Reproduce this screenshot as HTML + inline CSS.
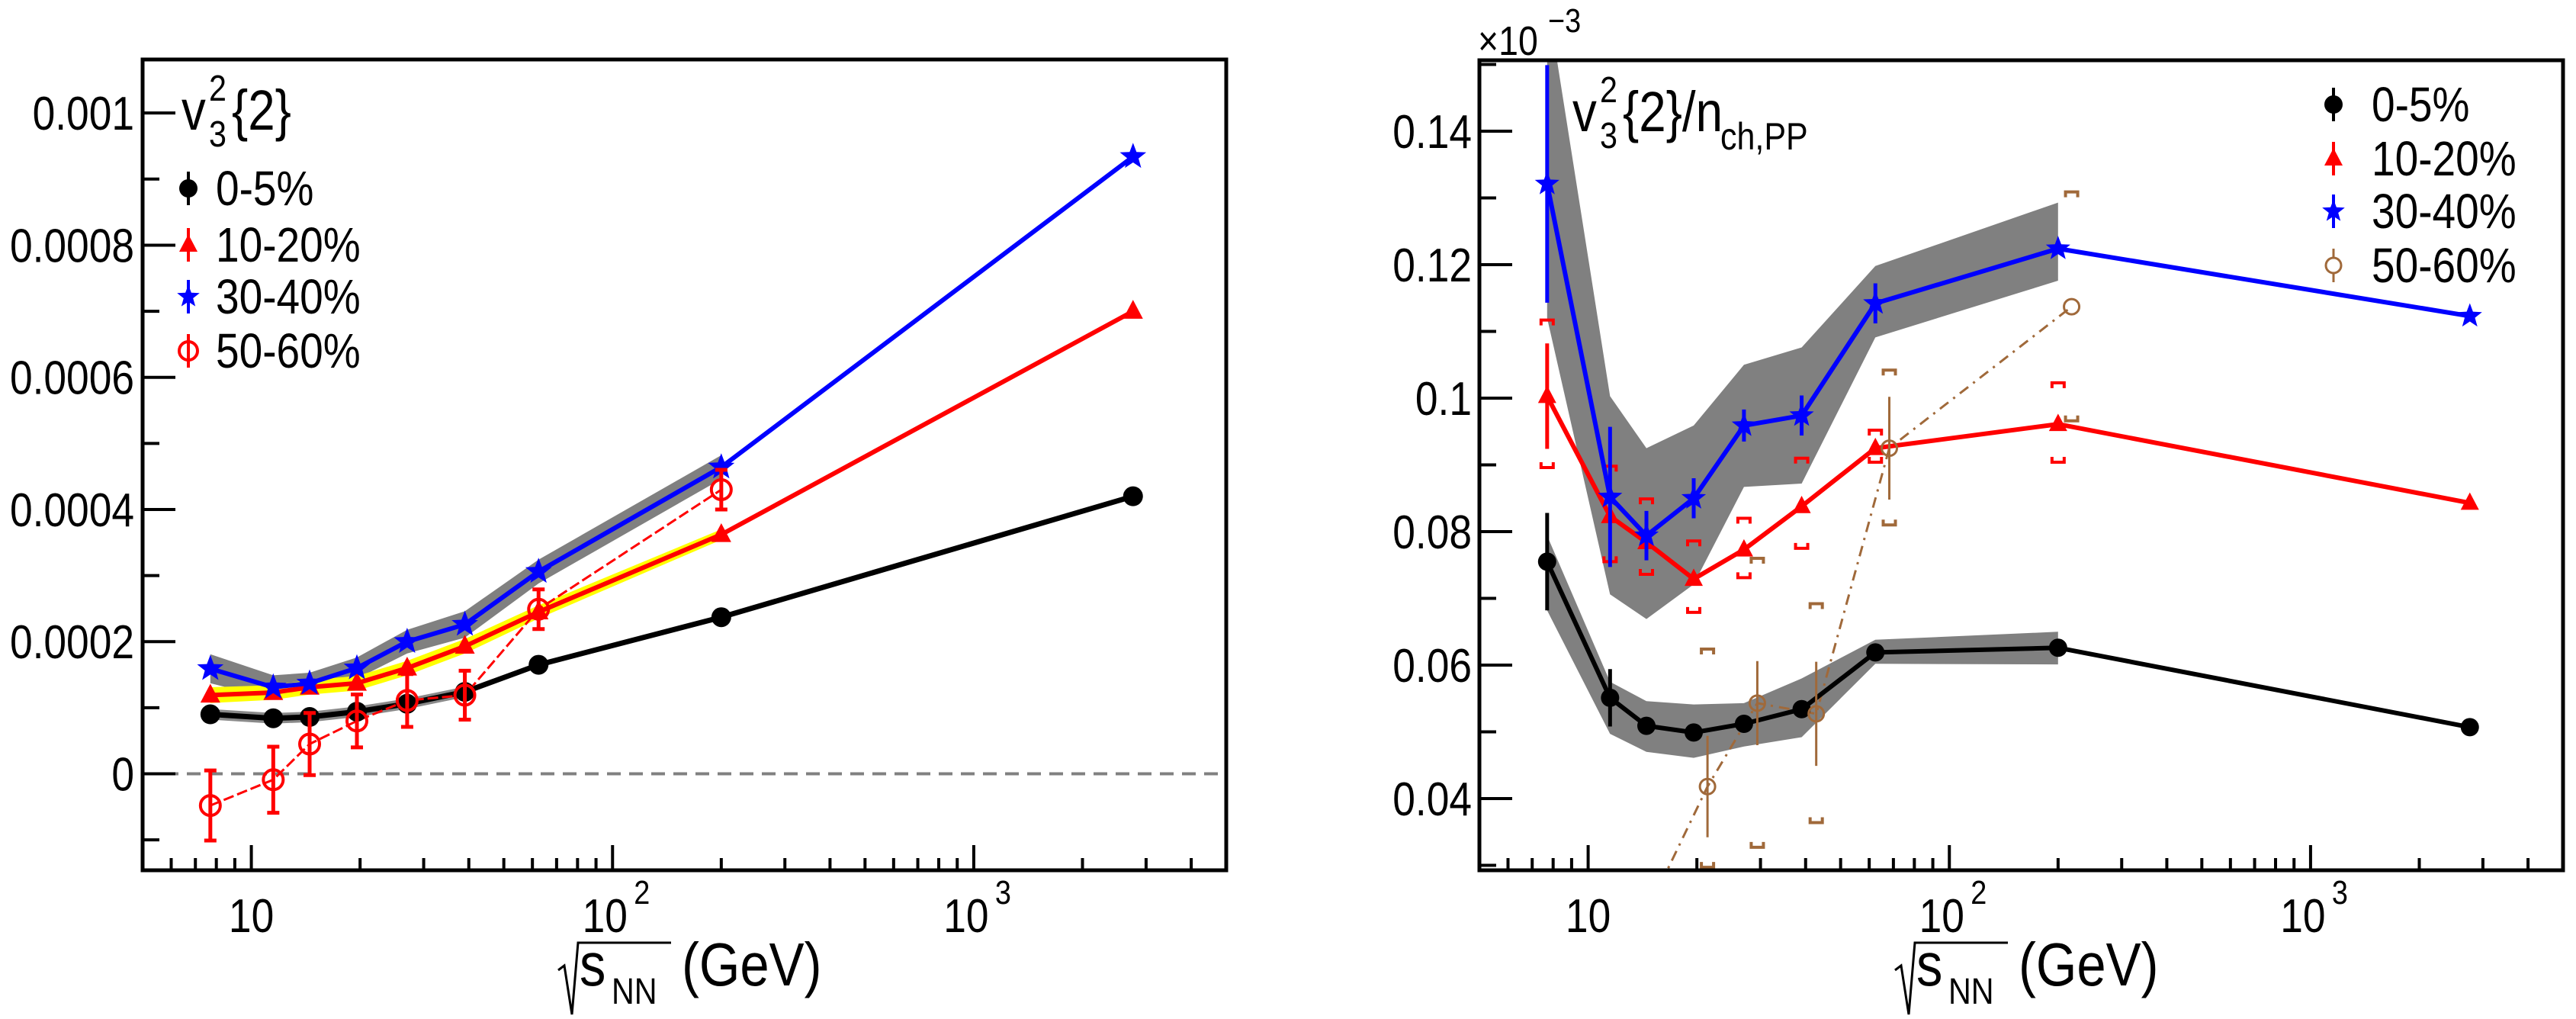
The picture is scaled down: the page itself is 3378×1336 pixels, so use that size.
<!DOCTYPE html>
<html><head><meta charset="utf-8"><style>
html,body{margin:0;padding:0;background:#fff}
svg{display:block}
text{font-family:"Liberation Sans",sans-serif}
</style></head><body>
<svg id="fig" width="3378" height="1336" viewBox="0 0 3378 1336" xmlns="http://www.w3.org/2000/svg">
<defs>
<clipPath id="clipL"><rect x="187" y="78" width="1421" height="1063"/></clipPath>
<clipPath id="clipR"><rect x="1940" y="79" width="1421" height="1062"/></clipPath>
</defs>
<g id="left"></g>
<g id="right"></g>
</svg>
<script>
// ---------- data: left panel (v3^2{2}) ----------
const energies = [7.7, 11.5, 14.5, 19.6, 27, 39, 62.4, 200, 2760];
const leftC0 = [0.000090, 0.000084, 0.000086, 0.000094, 0.000106, 0.000124, 0.000165, 0.000237, 0.00042];
const leftC10 = [0.000119, 0.000123, 0.000131, 0.000137, 0.000160, 0.000193, 0.000245, 0.000362, 0.00070];
const leftC30 = [0.000159, 0.000131, 0.000137, 0.000160, 0.000200, 0.000226, 0.000306, 0.000464, 0.000934];
const leftC50 = [-0.000048, -0.000009, 0.000045, 0.000080, 0.000111, 0.000119, 0.000249, 0.000430];
const leftC50Err = [0.000053, 0.000050, 0.000047, 0.000040, 0.000040, 0.000037, 0.000030, 0.000030];
const leftC0Band = [0.000008, 0.000008, 0.000008, 0.000008, 0.000008, 0.000008];
const leftC10Band = [0.000012, 0.000011, 0.000011, 0.000011, 0.000011, 0.000011, 0.000010, 0.000008];
const leftC30Band = [0.000022, 0.000018, 0.000016, 0.000016, 0.000018, 0.000020, 0.000018, 0.000018];
const leftYTicks = [0, 0.0002, 0.0004, 0.0006, 0.0008, 0.001];
const leftYTickLabels = ["0", "0.0002", "0.0004", "0.0006", "0.0008", "0.001"];

// ---------- data: right panel (v3^2{2}/nch,PP, x1e-3) ----------
const rightC0 = [0.0755, 0.0551, 0.0509, 0.0499, 0.0512, 0.0534, 0.0619, 0.0626, 0.0507];
const rightC0Err = [0.0073, 0.0043, 0, 0, 0, 0, 0, 0, 0];
const rightC0BandHi = [0.0794, 0.0575, 0.0546, 0.0541, 0.0543, 0.0580, 0.0638, 0.0650];
const rightC0BandLo = [0.0682, 0.0497, 0.0470, 0.0461, 0.0478, 0.0492, 0.0602, 0.0601];
const rightC10 = [0.1003, 0.0823, 0.0784, 0.0729, 0.0773, 0.0838, 0.0925, 0.0961, 0.0843];
const rightC10Err = [0.0079, 0, 0, 0, 0, 0, 0, 0, 0];
const rightC10SysHi = [0.1117, 0.0898, 0.0849, 0.0786, 0.0820, 0.0910, 0.0952, 0.1023];
const rightC10SysLo = [0.0896, 0.0755, 0.0736, 0.0679, 0.0731, 0.0775, 0.0904, 0.0904];
const rightC30 = [0.1321, 0.0852, 0.0794, 0.0850, 0.0959, 0.0974, 0.1142, 0.1224, 0.1123];
const rightC30Err = [0.0178, 0.0105, 0.0037, 0.0030, 0.0024, 0.0030, 0.0030, 0, 0];
const rightC30BandHi = [0.1600, 0.1003, 0.0925, 0.0959, 0.1050, 0.1076, 0.1198, 0.1293];
const rightC30BandLo = [0.1120, 0.0706, 0.0669, 0.0721, 0.0867, 0.0872, 0.1091, 0.1176];
const rightC50E = [15.9, 21.4, 29.4, 42.8, 68.2, 218];
const rightC50 = [0.0273, 0.0418, 0.0543, 0.0527, 0.0925, 0.1137];
const rightC50Err = [0, 0.0076, 0.0063, 0.0078, 0.0077, 0.0];
const rightC50SysHi = [0, 0.0624, 0.0760, 0.0692, 0.1042, 0.1309];
const rightC50SysLo = [0, 0.0297, 0.0327, 0.0364, 0.0810, 0.0966];
const rightYTicks = [0.04, 0.06, 0.08, 0.1, 0.12, 0.14];
const rightYTickLabels = ["0.04", "0.06", "0.08", "0.1", "0.12", "0.14"];

const xTickLabels = ["10", "10", "10"];
const xTickExp = ["", "2", "3"];
const xTickVals = [10, 100, 1000];

const NS = "http://www.w3.org/2000/svg";
function mk(parent, tag, attrs) {
  const e = document.createElementNS(NS, tag);
  for (const k in attrs) e.setAttribute(k, attrs[k]);
  parent.appendChild(e);
  return e;
}
function makeAxes(x0, x1, y0, y1, ymin, ymax) {
  return {
    x: e => x0 + (Math.log10(e) - Math.log10(5)) / 3 * (x1 - x0),
    y: v => y1 - (v - ymin) / (ymax - ymin) * (y1 - y0),
    x0, x1, y0, y1
  };
}
const AL = makeAxes(187, 1608, 78, 1141, -0.000146, 0.001081);
const AR = makeAxes(1940, 3361, 79, 1141, 0.029257, 0.15063);

function starPath(cx, cy, R) {
  let d = "";
  for (let i = 0; i < 10; i++) {
    const r = i % 2 ? R * 0.42 : R;
    const a = -Math.PI / 2 + i * Math.PI / 5;
    d += (i ? "L" : "M") + (cx + r * Math.cos(a)).toFixed(1) + "," + (cy + r * Math.sin(a)).toFixed(1);
  }
  return d + "Z";
}
function marker(g, type, cx, cy, color, s) {
  let m;
  if (type === "circle") m = mk(g, "circle", {cx, cy, r: s, fill: color});
  else if (type === "open") m = mk(g, "circle", {cx, cy, r: s, fill: "none", stroke: color, "stroke-width": 4});
  else if (type === "tri") m = mk(g, "path", {d: `M${cx},${cy - s * 1.15}L${cx + s},${cy + s * 0.75}L${cx - s},${cy + s * 0.75}Z`, fill: color});
  else m = mk(g, "path", {d: starPath(cx, cy, s * 1.3), fill: color});
  return m;
}
function polyline(g, A, xs, ys, color, w, dash) {
  const pts = xs.map((e, i) => A.x(e).toFixed(1) + "," + A.y(ys[i]).toFixed(1)).join(" ");
  const a = {points: pts, fill: "none", stroke: color, "stroke-width": w, "stroke-linejoin": "round"};
  if (dash) a["stroke-dasharray"] = dash;
  return mk(g, "polyline", a);
}
function band(g, A, xs, hi, lo, color) {
  let pts = [];
  for (let i = 0; i < hi.length; i++) pts.push(A.x(xs[i]).toFixed(1) + "," + A.y(hi[i]).toFixed(1));
  for (let i = lo.length - 1; i >= 0; i--) pts.push(A.x(xs[i]).toFixed(1) + "," + A.y(lo[i]).toFixed(1));
  return mk(g, "polygon", {points: pts.join(" "), fill: color});
}
function txt(g, x, y, s, size, anchor, sx) {
  const t = mk(g, "text", {x: 0, y: 0, "font-size": size, "text-anchor": anchor || "start", transform: `translate(${x},${y}) scale(${sx || 0.86},1)`});
  t.textContent = s;
  return t;
}
function frameAndXAxis(g, A) {
  for (let dec = 0; dec < 4; dec++) {
    for (let k = 1; k < 10; k++) {
      const e = k * Math.pow(10, dec);
      if (e < 5 || e > 5000) continue;
      const X = A.x(e);
      const len = k === 1 ? 33 : 16;
      const tk = mk(g, "line", {x1: X, x2: X, y1: A.y1, y2: A.y1 - len, stroke: "#000", "stroke-width": 4});
      
      
    }
  }
  xTickVals.forEach((v, i) => {
    const X = A.x(v);
    const t = txt(g, X + (xTickExp[i] ? -10 : 0), 1222, xTickLabels[i], 62, "middle");
    
    
    if (xTickExp[i]) {
      const t2 = txt(g, X + 28, 1185, xTickExp[i], 44, "start");
      
      
    }
  });
  // axis title
  const ax = A.x0 + 545;
  const tg = mk(g, "g", {});
  
  
  mk(tg, "polyline", {points: `${ax},1272 ${ax + 8},1266 ${ax + 18},1330 ${ax + 26},1236 ${ax + 148},1236`, fill: "none", stroke: "#000", "stroke-width": 3});
  txt(tg, ax + 28, 1292, "s", 80, "start");
  txt(tg, ax + 70, 1316, "NN", 48, "start");
  txt(tg, ax + 162, 1292, "(GeV)", 80, "start");
  const fr = mk(g, "rect", {x: A.x0, y: A.y0, width: A.x1 - A.x0, height: A.y1 - A.y0, fill: "none", stroke: "#000", "stroke-width": 5});
  
  
}

// ================= LEFT PANEL =================
const gL = document.getElementById("left");
const pL = mk(gL, "g", {"clip-path": "url(#clipL)"});


const zl = mk(pL, "line", {x1: AL.x0, x2: AL.x1, y1: AL.y(0), y2: AL.y(0), stroke: "#808080", "stroke-width": 4, "stroke-dasharray": "18,11"});


const bE0 = energies.slice(0, 6);
const b0 = band(pL, AL, bE0, leftC0.slice(0, 6).map((v, i) => v + leftC0Band[i]), leftC0.slice(0, 6).map((v, i) => v - leftC0Band[i]), "#8a8a8a");


const bE = energies.slice(0, 8);
const b30 = band(pL, AL, bE, leftC30.slice(0, 8).map((v, i) => v + leftC30Band[i]), leftC30.slice(0, 8).map((v, i) => v - leftC30Band[i]), "#808080");


const b10 = band(pL, AL, bE, leftC10.slice(0, 8).map((v, i) => v + leftC10Band[i]), leftC10.slice(0, 8).map((v, i) => v - leftC10Band[i]), "#ffff00");


const l0 = polyline(pL, AL, energies, leftC0, "#000", 7);


const l10 = polyline(pL, AL, energies, leftC10, "#ff0000", 6);


const l30 = polyline(pL, AL, energies, leftC30, "#0000ff", 6);


const l50 = polyline(pL, AL, energies.slice(0, 8), leftC50, "#ff0000", 3, "14,5");


energies.forEach((e, i) => {
  const m = marker(pL, "circle", AL.x(e), AL.y(leftC0[i]), "#000", 13);
  
  
});
energies.forEach((e, i) => {
  const m = marker(pL, "tri", AL.x(e), AL.y(leftC10[i]), "#ff0000", 13);
  
  
});
energies.forEach((e, i) => {
  const m = marker(pL, "star", AL.x(e), AL.y(leftC30[i]), "#0000ff", 14);
  
  
});
leftC50.forEach((v, i) => {
  const X = AL.x(energies[i]);
  const eb = mk(pL, "path", {d: `M${X},${AL.y(v + leftC50Err[i])}V${AL.y(v - leftC50Err[i])}M${X - 8},${AL.y(v + leftC50Err[i])}H${X + 8}M${X - 8},${AL.y(v - leftC50Err[i])}H${X + 8}`, stroke: "#ff0000", "stroke-width": 5, fill: "none"});
  
  
  const m = marker(pL, "open", X, AL.y(v), "#ff0000", 13);
  
  
});
for (let k = -1; k <= 10; k++) {
  const v = k * 0.0001;
  const Y = AL.y(v);
  const major = k % 2 === 0;
  const tk = mk(gL, "line", {x1: AL.x0, x2: AL.x0 + (major ? 43 : 22), y1: Y, y2: Y, stroke: "#000", "stroke-width": 4});
  
  
}
leftYTicks.forEach((v, i) => {
  const t = txt(gL, 176, AL.y(v) + 22, leftYTickLabels[i], 62, "end");
  
  
});
frameAndXAxis(gL, AL);
const tL = mk(gL, "g", {});


txt(tL, 238, 170, "v", 74);
txt(tL, 274, 132, "2", 48);
txt(tL, 274, 192, "3", 48);
txt(tL, 304, 170, "{2}", 74);
const legL = [["circle", "#000", "0-5%", 247], ["tri", "#ff0000", "10-20%", 321], ["star", "#0000ff", "30-40%", 389], ["open", "#ff0000", "50-60%", 460]];
legL.forEach(([type, col, lab, y]) => {
  const g = mk(gL, "g", {});
  
  
  mk(g, "line", {x1: 247, x2: 247, y1: y - 22, y2: y + 22, stroke: col, "stroke-width": 4});
  marker(g, type, 247, y, col, 12);
  txt(g, 283, y + 22, lab, 64);
});

// ================= RIGHT PANEL =================
const gR = document.getElementById("right");
const pR = mk(gR, "g", {"clip-path": "url(#clipR)"});


const eB = energies.slice(0, 8);
const rb30 = band(pR, AR, eB, rightC30BandHi, rightC30BandLo, "#808080");


const rb0 = band(pR, AR, eB, rightC0BandHi, rightC0BandLo, "#808080");


function bracket(g, X, Yhi, Ylo, col) {
  const w = 8, h = 7;
  return mk(g, "path", {d: `M${X - w},${Yhi + h}V${Yhi}H${X + w}V${Yhi + h}M${X - w},${Ylo - h}V${Ylo}H${X + w}V${Ylo - h}`, stroke: col, "stroke-width": 4, fill: "none"});
}
rightC10SysHi.forEach((v, i) => {
  const b = bracket(pR, AR.x(energies[i]), AR.y(v), AR.y(rightC10SysLo[i]), "#ff0000");
  
  
});
rightC50SysHi.forEach((v, i) => {
  if (!v) return;
  const b = bracket(pR, AR.x(rightC50E[i]), AR.y(v), AR.y(rightC50SysLo[i]), "#a0693a");
  
  
});
const r50 = polyline(pR, AR, rightC50E, rightC50, "#a0693a", 3, "14,8,3,8");


const r0 = polyline(pR, AR, energies, rightC0, "#000", 6);


const r10 = polyline(pR, AR, energies, rightC10, "#ff0000", 6);


const r30 = polyline(pR, AR, energies, rightC30, "#0000ff", 6);


function errBar(g, X, v, err, col, w) {
  return mk(g, "line", {x1: X, x2: X, y1: AR.y(v + err), y2: AR.y(v - err), stroke: col, "stroke-width": w});
}
energies.forEach((e, i) => {
  if (rightC0Err[i]) {
    const eb = errBar(pR, AR.x(e), rightC0[i], rightC0Err[i], "#000", 5);
    
    
  }
  const m = marker(pR, "circle", AR.x(e), AR.y(rightC0[i]), "#000", 12);
  
  
});
energies.forEach((e, i) => {
  if (rightC10Err[i]) {
    const eb = errBar(pR, AR.x(e), rightC10[i], rightC10Err[i], "#ff0000", 5);
    
    
  }
  const m = marker(pR, "tri", AR.x(e), AR.y(rightC10[i]), "#ff0000", 12);
  
  
});
energies.forEach((e, i) => {
  if (rightC30Err[i]) {
    const eb = errBar(pR, AR.x(e), rightC30[i], rightC30Err[i], "#0000ff", 5);
    
    
  }
  const m = marker(pR, "star", AR.x(e), AR.y(rightC30[i]), "#0000ff", 13);
  
  
});
rightC50E.forEach((e, i) => {
  if (rightC50Err[i]) {
    const eb = errBar(pR, AR.x(e), rightC50[i], rightC50Err[i], "#a0693a", 3);
    
    
  }
  const m = mk(pR, "circle", {cx: AR.x(e), cy: AR.y(rightC50[i]), r: 10, fill: "none", stroke: "#a0693a", "stroke-width": 3});
  
  
});
for (let k = 3; k <= 15; k++) {
  const v = k * 0.01;
  const Y = AR.y(v);
  const major = k % 2 === 0;
  const tk = mk(gR, "line", {x1: AR.x0, x2: AR.x0 + (major ? 43 : 22), y1: Y, y2: Y, stroke: "#000", "stroke-width": 4});
  
  
}
rightYTicks.forEach((v, i) => {
  const t = txt(gR, 1930, AR.y(v) + 22, rightYTickLabels[i], 62, "end");
  
  
});
const ex = mk(gR, "g", {});


txt(ex, 1938, 72, "×10", 54);
txt(ex, 2030, 42, "−3", 44);
frameAndXAxis(gR, AR);
const tR = mk(gR, "g", {});


txt(tR, 2062, 172, "v", 74);
txt(tR, 2098, 134, "2", 48);
txt(tR, 2098, 194, "3", 48);
txt(tR, 2128, 172, "{2}/n", 74);
txt(tR, 2256, 196, "ch,PP", 50);
const legR = [["circle", "#000", "0-5%", 137], ["tri", "#ff0000", "10-20%", 208], ["star", "#0000ff", "30-40%", 277], ["open", "#a0693a", "50-60%", 348]];
legR.forEach(([type, col, lab, y]) => {
  const g = mk(gR, "g", {});
  
  
  mk(g, "line", {x1: 3060, x2: 3060, y1: y - 22, y2: y + 22, stroke: col, "stroke-width": type === "open" ? 3 : 4});
  if (type === "open") mk(g, "circle", {cx: 3060, cy: y, r: 10, fill: "#fff", stroke: col, "stroke-width": 3});
  else marker(g, type, 3060, y, col, 12);
  txt(g, 3110, y + 22, lab, 64);
});
</script>
</body></html>
